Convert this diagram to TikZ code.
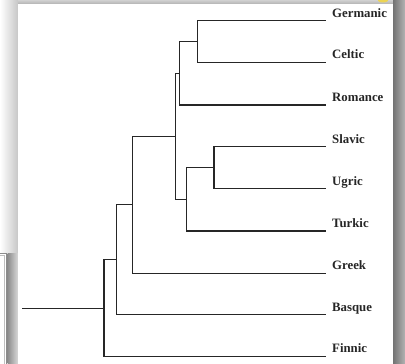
\documentclass[tikz,border=0pt]{standalone}
\usepackage{fontspec}
\setmainfont{Liberation Serif}
\begin{document}
\begin{tikzpicture}[x=1pt,y=-1pt,
  branch/.style={line width=1.1pt, draw=black!85},
  leaflabel/.style={anchor=base west, inner sep=0pt, font=\fontsize{12.8}{15}\selectfont\bfseries, text=black!85}]
\useasboundingbox (0,0) rectangle (405,364);
% page background and drop shadows
\fill[white] (0,0) rectangle (405,364);
\shade[left color=white, right color=black!22] (0,0) rectangle (18,253);
\shade[top color=black!18, bottom color=black!30] (18,0) rectangle (393,4);
\shade[left color=black!55, right color=black!30] (393,0) rectangle (405,364);
% partial frame at lower left
\shade[left color=black!45, right color=black!15] (7.5,253) rectangle (18,364);
\draw[black!45, line width=0.8pt] (0,253) -- (6.5,253) -- (6.5,364);
\draw[black!25, line width=0.6pt] (0,255.5) -- (4.5,255.5) -- (4.5,364);
% white panel
\fill[white] (18,4) rectangle (393,364);
% small yellow mark at top edge
\begin{scope}
  \clip (370,0) rectangle (400,3);
  \fill[yellow!60!brown!80] (383,-1) ellipse (6 and 3.5);
\end{scope}

% leaf tips
\coordinate (tGer) at (326,20.7);
\coordinate (tCel) at (326,62.7);
\coordinate (tRom) at (326,105);
\coordinate (tSla) at (326,146.7);
\coordinate (tUgr) at (326,188.7);
\coordinate (tTur) at (326,231);
\coordinate (tGre) at (326,273.3);
\coordinate (tBas) at (326,314.7);
\coordinate (tFin) at (326,356.5);

% internal nodes
\coordinate (nGC)  at (197.7,41.7);
\coordinate (nGCR) at (179.5,73.5);
\coordinate (nSU)  at (214,167.7);
\coordinate (nSUT) at (186.7,199.4);
\coordinate (nA)   at (175.5,136.4);
\coordinate (nB)   at (132.5,204.9);
\coordinate (nC)   at (116.5,259.8);
\coordinate (nR)   at (104,308.2);
\coordinate (stem) at (22,308.2);

% labels
\node[leaflabel] (lGer) at ([xshift=6pt,yshift=3.7pt]tGer) {Germanic};
\node[leaflabel] (lCel) at ([xshift=6pt,yshift=3.7pt]tCel) {Celtic};
\node[leaflabel] (lRom) at ([xshift=6pt,yshift=3.7pt]tRom) {Romance};
\node[leaflabel] (lSla) at ([xshift=6pt,yshift=3.7pt]tSla) {Slavic};
\node[leaflabel] (lUgr) at ([xshift=6pt,yshift=3.7pt]tUgr) {Ugric};
\node[leaflabel] (lTur) at ([xshift=6pt,yshift=3.7pt]tTur) {Turkic};
\node[leaflabel] (lGre) at ([xshift=6pt,yshift=3.7pt]tGre) {Greek};
\node[leaflabel] (lBas) at ([xshift=6pt,yshift=3.7pt]tBas) {Basque};
\node[leaflabel] (lFin) at ([xshift=6pt,yshift=3.7pt]tFin) {Finnic};

% branches
\draw[branch] (nGC) |- (tGer);
\draw[branch] (nGC) |- (tCel);
\draw[branch] (nGCR) |- (nGC);
\draw[branch] (nGCR) |- (tRom);
\draw[branch] (nSU) |- (tSla);
\draw[branch] (nSU) |- (tUgr);
\draw[branch] (nSUT) |- (nSU);
\draw[branch] (nSUT) |- (tTur);
\draw[branch] (nA) |- (nGCR);
\draw[branch] (nA) |- (nSUT);
\draw[branch] (nB) |- (nA);
\draw[branch] (nB) |- (tGre);
\draw[branch] (nC) |- (nB);
\draw[branch] (nC) |- (tBas);
\draw[branch] (nR) |- (nC);
\draw[branch] (nR) |- (tFin);
\draw[branch] (stem) -- (nR);
\end{tikzpicture}
\end{document}
